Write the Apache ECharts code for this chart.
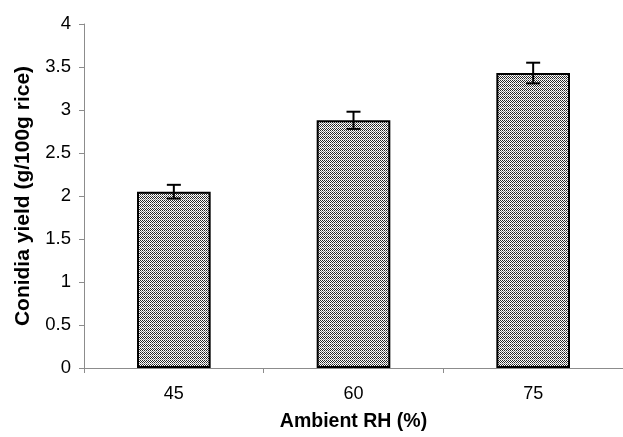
<!DOCTYPE html>
<html><head><meta charset="utf-8">
<script src="https://cdn.jsdelivr.net/npm/echarts@6/dist/echarts.min.js"></script>
<style>html,body{margin:0;padding:0;background:#fff}#c{width:623px;height:437px}</style>
</head><body><div id="c"></div>
<script>
var categories = ['45', '60', '75'];
var yieldValues = [2.05, 2.88, 3.43];
var errorValues = [0.08, 0.10, 0.12];
var yTicks = [0, 0.5, 1, 1.5, 2, 2.5, 3, 3.5, 4];

// hatch pattern tile
var tile = document.createElement('canvas');
tile.width = 4; tile.height = 4;
var tc = tile.getContext('2d');
tc.fillStyle = '#ffffff'; tc.fillRect(0, 0, 4, 4);
tc.fillStyle = '#262626';
tc.fillRect(0, 0, 1, 1); tc.fillRect(2, 0, 1, 1);
tc.fillRect(1, 1, 1, 1); tc.fillRect(3, 1, 1, 1);
tc.fillRect(0, 2, 1, 1); tc.fillRect(2, 2, 1, 1);
tc.fillStyle = '#808080';
tc.fillRect(1, 3, 1, 1); tc.fillRect(3, 3, 1, 1);

var chart = echarts.init(document.getElementById('c'), null, {renderer: 'canvas'});
var errData = categories.map(function (c, i) {
  return [i, yieldValues[i] - errorValues[i], yieldValues[i] + errorValues[i]];
});
chart.setOption({
  animation: false,
  grid: {left: 84, top: 24, width: 543, bottom: 64, containLabel: false},
  xAxis: {
    type: 'category', data: categories,
    name: 'Ambient RH (%)', nameLocation: 'middle', nameGap: 44,
    nameTextStyle: {fontFamily: 'Liberation Sans', fontWeight: 'bold', fontSize: 19.5, color: '#000'},
    axisLine: {lineStyle: {color: '#8c8c8c', width: 1}},
    axisTick: {show: true, length: 5, lineStyle: {color: '#8c8c8c'}},
    axisLabel: {fontFamily: 'Liberation Sans', fontSize: 18, color: '#000', margin: 17}
  },
  yAxis: {
    type: 'value', min: 0, max: 4, interval: 0.5,
    name: 'Conidia yield (g/100g rice)', nameLocation: 'middle', nameGap: 50,
    nameTextStyle: {fontFamily: 'Liberation Sans', fontWeight: 'bold', fontSize: 21, color: '#000'},
    axisLine: {show: true, lineStyle: {color: '#8c8c8c', width: 1}},
    axisTick: {show: true, length: 5, lineStyle: {color: '#8c8c8c'}},
    splitLine: {show: false},
    axisLabel: {fontFamily: 'Liberation Sans', fontSize: 18.5, color: '#000', margin: 13,
      formatter: function (v) { return yTicks.indexOf(v) >= 0 ? String(v) : ''; }}
  },
  series: [{
    type: 'bar', data: yieldValues, barWidth: '41%',
    itemStyle: {color: {image: tile, repeat: 'repeat'}, borderColor: '#000', borderWidth: 2}
  }, {
    type: 'custom', data: errData, z: 10,
    renderItem: function (params, api) {
      var x = api.value(0);
      var lo = api.coord([x, api.value(1)]);
      var hi = api.coord([x, api.value(2)]);
      var hw = 7;
      var st = {stroke: '#000', lineWidth: 2};
      return {type: 'group', children: [
        {type: 'line', shape: {x1: lo[0], y1: lo[1], x2: hi[0], y2: hi[1]}, style: st},
        {type: 'line', shape: {x1: lo[0] - hw, y1: lo[1], x2: lo[0] + hw, y2: lo[1]}, style: st},
        {type: 'line', shape: {x1: hi[0] - hw, y1: hi[1], x2: hi[0] + hw, y2: hi[1]}, style: st}
      ]};
    }
  }]
});
</script></body></html>
